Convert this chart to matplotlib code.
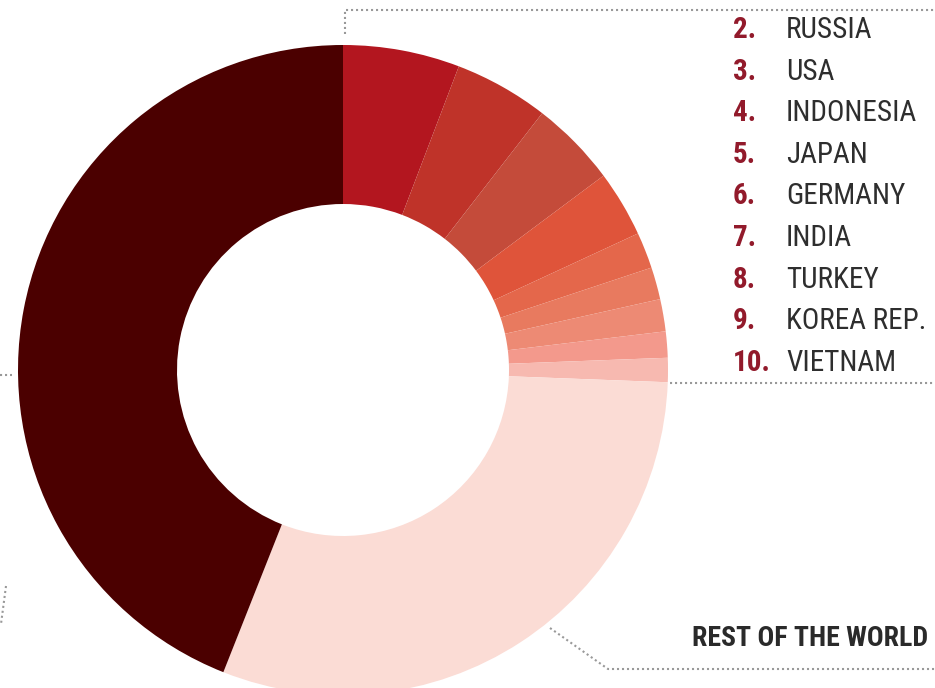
import matplotlib.pyplot as plt
import matplotlib.font_manager as fm

# shares of the world total, in percent
ranks = [2, 3, 4, 5, 6, 7, 8, 9, 10]
countries = ["RUSSIA", "USA", "INDONESIA", "JAPAN", "GERMANY",
             "INDIA", "TURKEY", "KOREA REP.", "VIETNAM"]
shares = [5.8, 4.7, 4.3, 3.3, 1.8, 1.6, 1.6, 1.3, 1.2]
rest_share = 30.4
china_share = 44.0

colors = ["#b3161f", "#bf3329", "#c44b3a", "#df543a", "#e4674b",
          "#e87a5f", "#ed8a74", "#f3998c", "#f7b9b0"]
rest_color = "#fbdcd5"
china_color = "#4b0000"

installed = {f.name for f in fm.fontManager.ttflist}
narrow = next((n for n in ["Roboto Condensed", "Liberation Sans Narrow",
                           "DejaVu Sans Condensed"] if n in installed), "DejaVu Sans")
families = [narrow, "DejaVu Sans"]

fig = plt.figure(figsize=(9.35, 6.88), dpi=100)
ax = fig.add_axes([0, 0, 1, 1])

# y axis runs downward, so counterclock in data space reads clockwise from the top
ax.pie(shares + [rest_share, china_share],
       colors=colors + [rest_color, china_color],
       center=(343, 370), radius=325, startangle=-90, counterclock=True,
       wedgeprops=dict(width=159, linewidth=0))
ax.set_xlim(0, 935)
ax.set_ylim(688, 0)
ax.set_aspect("equal")
ax.axis("off")

dots = dict(color="#999999", lw=1.5, ls=(0, (1, 1.4)), dash_capstyle="butt")
ax.plot([345, 345, 935], [34, 10, 10], **dots)
ax.plot([670, 935], [383, 383], **dots)
ax.plot([550, 608, 935], [628, 669, 669], **dots)
ax.plot([0, 12], [375, 375], **dots)
ax.plot([6, 1], [586, 624], **dots)

for i, (rank, name) in enumerate(zip(ranks, countries)):
    y = 30 + 41.6 * i
    ax.text(733, y, f"{rank}.", fontsize=21, fontweight="bold", color="#921a2b",
            family=families, va="center", ha="left")
    ax.text(786, y, name, fontsize=21, color="#2e2e2e",
            family=families, va="center", ha="left")

ax.text(928, 638, "REST OF THE WORLD", fontsize=20, fontweight="bold",
        color="#2a2a2a", family=families, va="center", ha="right")

fig.savefig("out.png", dpi=100)
